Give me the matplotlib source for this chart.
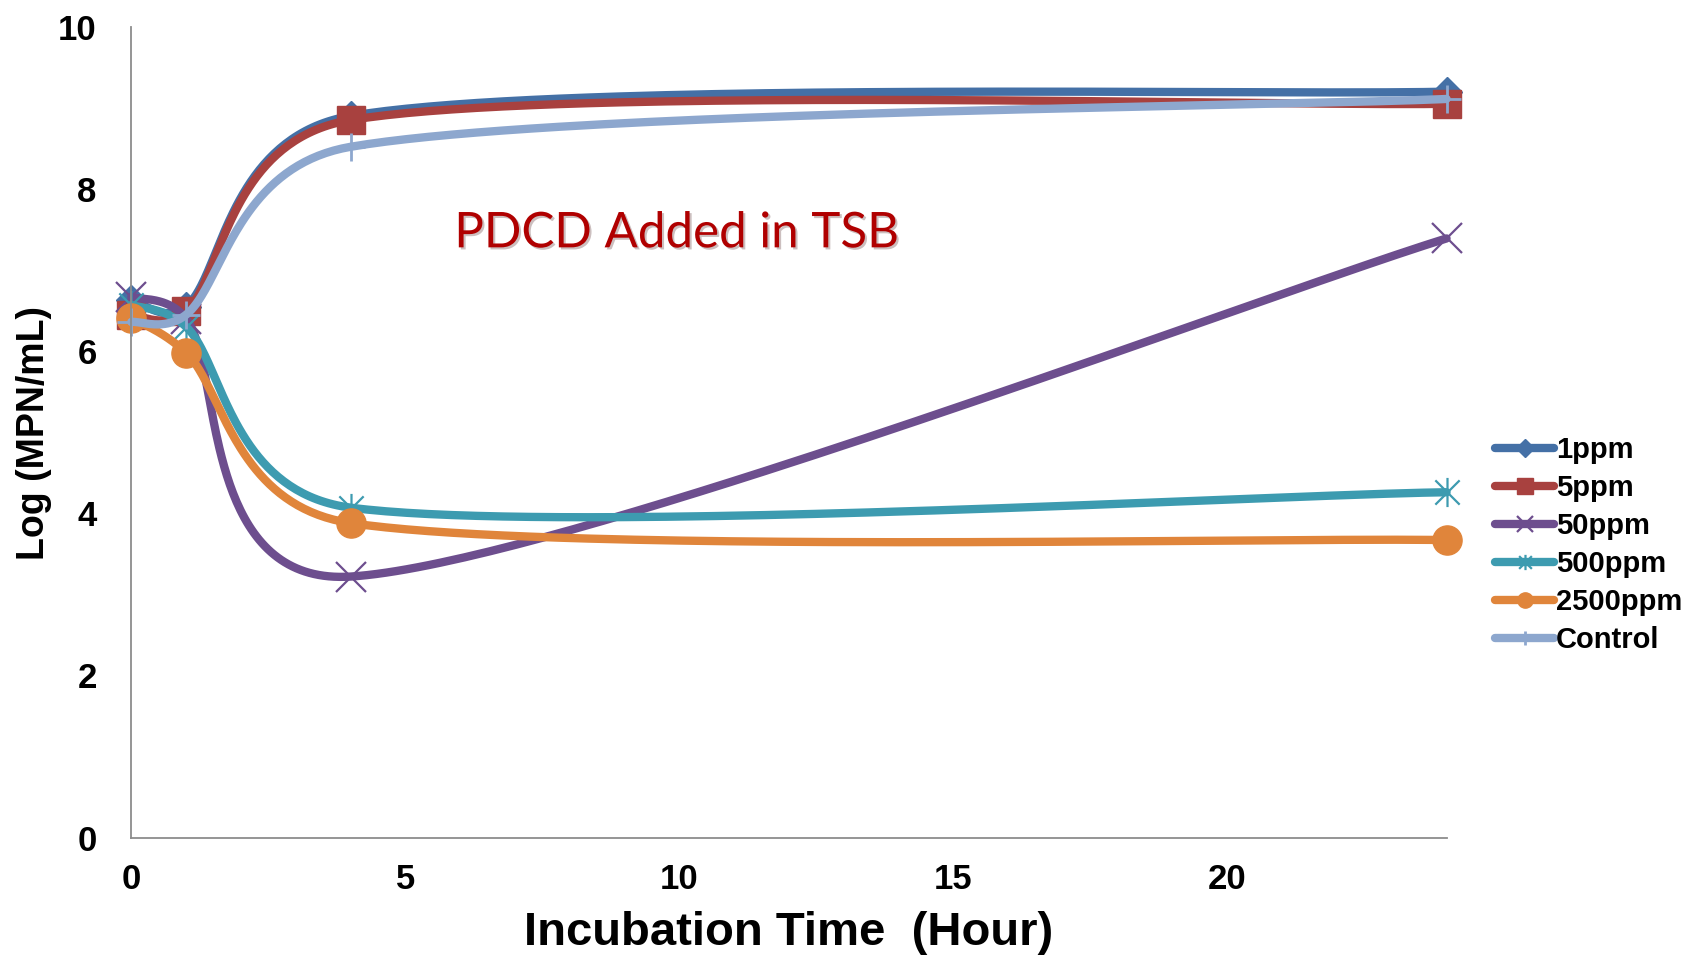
import numpy as np
import matplotlib
matplotlib.use("Agg")
import matplotlib.pyplot as plt
from matplotlib.lines import Line2D
from matplotlib.path import Path
import matplotlib.patheffects as pe

# Incubation time (hours) and log counts
hours = [0, 1, 4, 24]
ppm1 = [6.63, 6.55, 8.90, 9.20]
ppm5 = [6.44, 6.49, 8.85, 9.05]
ppm50 = [6.67, 6.40, 3.22, 7.39]
ppm500 = [6.57, 6.30, 4.07, 4.26]
ppm2500 = [6.41, 5.98, 3.88, 3.67]
control = [6.36, 6.45, 8.52, 9.11]

labels = ["1ppm", "5ppm", "50ppm", "500ppm", "2500ppm", "Control"]
series = [ppm1, ppm5, ppm50, ppm500, ppm2500, control]
colors = ["#4470A6", "#A8413F", "#6D4E8E", "#3D9BB0", "#E0853B", "#8DA7CE"]

# asterisk like Excel's star marker: X plus a vertical bar
star = Path([(-1, -1), (1, 1), (-1, 1), (1, -1), (0, -1.2), (0, 1.2)],
            [Path.MOVETO, Path.LINETO, Path.MOVETO, Path.LINETO, Path.MOVETO, Path.LINETO])
markers = ["D", "s", "x", star, "o", "+"]
msizes = [15, 20, 21, 21, 21, 20]
leg_ms = [9, 11, 11, 11, 11, 10]
mews = [1, 1, 1.6, 1.6, 1, 2]
filled = [True, True, False, False, True, False]

W, H = 1684, 957
AX = [0.078, 0.1247, 0.781, 0.8473]
XMAX, YMAX = 24, 10
SX = AX[2] * W / XMAX
SY = AX[3] * H / YMAX


def excel_smooth(x, y, n=80):
    """Bezier smoothing in the manner of Excel's smoothed lines (pixel space)."""
    p = np.column_stack([np.asarray(x) * SX, np.asarray(y) * SY])
    ext = np.vstack([p[0], p, p[-1]])
    t = np.linspace(0, 1, n)[:, None]
    out = []
    for i in range(len(p) - 1):
        a, b, c, d = ext[i], ext[i + 1], ext[i + 2], ext[i + 3]
        d12 = np.hypot(*(c - b))
        d02 = np.hypot(*(c - a))
        d13 = np.hypot(*(d - b))
        f0 = f3 = 1 / 6
        if d02 / 6 >= d12 / 2 and d02 > 0:
            f0 = d12 / d02 / 2
        if d13 / 6 >= d12 / 2 and d13 > 0:
            f3 = d12 / d13 / 2
        c1 = b + (c - a) * f0
        c2 = c - (d - b) * f3
        seg = (1 - t) ** 3 * b + 3 * (1 - t) ** 2 * t * c1 + 3 * (1 - t) * t ** 2 * c2 + t ** 3 * c
        out.append(seg if i == 0 else seg[1:])
    pts = np.vstack(out)
    return pts[:, 0] / SX, pts[:, 1] / SY


fig = plt.figure(figsize=(W / 100, H / 100), dpi=100)
ax = fig.add_axes(AX)

handles = []
for vals, lab, col, mk, ms, lms, mew, fl in zip(series, labels, colors, markers,
                                                 msizes, leg_ms, mews, filled):
    sx, sy = excel_smooth(hours, vals)
    ax.plot(sx, sy, color=col, lw=6, solid_capstyle="round", clip_on=False)
    ax.plot(hours, vals, ls="none", marker=mk, ms=ms, mew=mew, color=col,
            mfc=col if fl else "none", mec=col, clip_on=False)
    handles.append(Line2D([], [], color=col, lw=6, solid_capstyle="round",
                          marker=mk, ms=lms, mew=mew, mfc=col if fl else "none", mec=col))

ax.set_xlim(0, XMAX)
ax.set_ylim(0, YMAX)
ax.set_xticks([0, 5, 10, 15, 20])
ax.set_yticks([0, 2, 4, 6, 8, 10])
for s in ["top", "right"]:
    ax.spines[s].set_visible(False)
for s in ["left", "bottom"]:
    ax.spines[s].set_color("#8C8C8C")
    ax.spines[s].set_linewidth(1.3)
ax.tick_params(axis="both", length=0)
ax.tick_params(axis="y", pad=25)
ax.tick_params(axis="x", pad=18)
for lbl in ax.get_xticklabels() + ax.get_yticklabels():
    lbl.set_fontfamily("Liberation Sans")
    lbl.set_fontweight("bold")
    lbl.set_fontsize(25)

ax.set_xlabel("Incubation Time  (Hour)", fontsize=34, fontweight="bold",
              family="Liberation Sans", va="center")
ax.xaxis.set_label_coords(0.5, -0.1175)
ax.set_ylabel("Log (MPN/mL)", fontsize=27, fontweight="bold",
              family="Liberation Sans", va="center")
ax.yaxis.set_label_coords(-0.0737, 0.499)

ax.text(9.95, 7.28, "PDCD Added in TSB", color="#B00000", fontsize=35.5,
        family="Lato", ha="center", va="baseline",
        path_effects=[pe.withSimplePatchShadow(offset=(1.5, -1.5), alpha=0.25)])

fig.legend(handles, labels, loc="center left", bbox_to_anchor=(0.888, 0.4305),
           frameon=False, borderpad=0, borderaxespad=0, handlelength=2.0,
           handletextpad=0.08, labelspacing=0.34,
           prop={"family": "Liberation Sans", "weight": "bold", "size": 21})

fig.savefig("out.png", dpi=100)
